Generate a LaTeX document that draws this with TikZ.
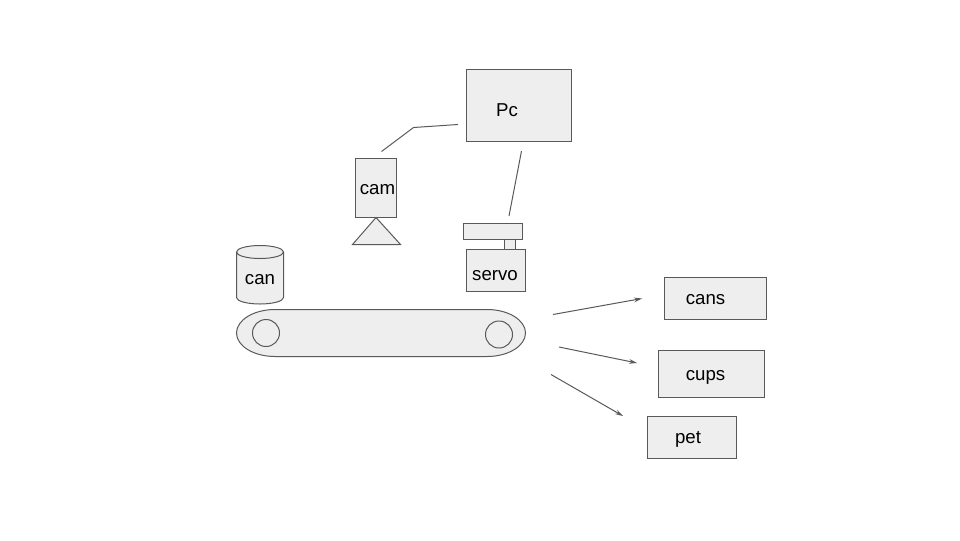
\documentclass[tikz,border=0pt]{standalone}
\usepackage{fontspec}
\setmainfont{Liberation Sans}
\usetikzlibrary{arrows.meta,shapes.geometric}
\definecolor{boxfill}{HTML}{EEEEEE}
\definecolor{boxline}{HTML}{595959}
\tikzset{
	part/.style={draw=boxline,fill=boxfill,line width=0.75pt,inner sep=0pt,outer sep=0pt},
	box/.style={part,rectangle},
	wheel/.style={part,circle,minimum size=27\px},
	tag/.style={inner sep=0pt,font=\fontsize{14}{16}\selectfont,text=black},
	wire/.style={draw=boxline,line width=0.75pt},
	flow/.style={wire,-{Stealth[length=6pt,width=3.5pt]}}
}
\newlength{\px}
\setlength{\px}{0.75pt}
\begin{document}
\begin{tikzpicture}[x=0.75pt,y=-0.75pt]
	\useasboundingbox (0,0) rectangle (960,540);
	% computer and camera
	\node[box,minimum width=105\px,minimum height=72\px] (pc) at (518.5,105.5) {};
	\node[tag] (pc_t) at (507,110) {Pc};
	\node[box,minimum width=41\px,minimum height=59\px] (cam) at (375.5,187.5) {};
	\node[tag] (cam_t) at (377.5,190) {cam};
	\filldraw[part] (376,217.5) coordinate (cam_top) -- (352.5,244.5) -- (400.5,244.5) -- cycle;
	% servo
	\node[box,minimum width=59\px,minimum height=16\px] (arm) at (492.5,231.5) {};
	\node[box,minimum width=11\px,minimum height=10\px] (shaft) at (509.5,244) {};
	\node[box,minimum width=59\px,minimum height=42\px] (servo) at (495.5,270.5) {};
	\node[tag] (servo_t) at (495,276) {servo};
	% can and belt
	\filldraw[part] (236.5,252) -- (236.5,297.5) arc[start angle=180,end angle=0,x radius=23.5,y radius=6.5]
		-- (283.5,252) arc[start angle=0,end angle=-360,x radius=23.5,y radius=6.5];
	\node[tag] (can_t) at (260,280) {can};
	\filldraw[part] (275,309.5) -- (487,309.5) arc[start angle=-90,end angle=90,x radius=38.5,y radius=23.5]
		-- (275,356.5) arc[start angle=90,end angle=270,x radius=38.5,y radius=23.5] -- cycle;
	\node[wheel] (wheel_l) at (266,333) {};
	\node[wheel] (wheel_r) at (499,334.5) {};
	% sorted bins
	\node[box,minimum width=102\px,minimum height=42\px] (cans) at (715,298.5) {};
	\node[tag] (cans_t) at (705.5,300) {cans};
	\node[box,minimum width=106\px,minimum height=47\px] (cups) at (711,374) {};
	\node[tag] (cups_t) at (705.5,377) {cups};
	\node[box,minimum width=89\px,minimum height=42\px] (pet) at (691.5,437.5) {};
	\node[tag] (pet_t) at (688,439) {pet};
	% free ends
	\coordinate (w1) at (381.5,151.5);
	\coordinate (w2) at (413.5,127.5);
	\coordinate (w3) at (458,124.5);
	\coordinate (w4) at (521.5,151);
	\coordinate (w5) at (509,216);
	\coordinate (f1a) at (553,314.5);
	\coordinate (f1b) at (642,298.5);
	\coordinate (f2a) at (559,347);
	\coordinate (f2b) at (637,363);
	\coordinate (f3a) at (551,374.5);
	\coordinate (f3b) at (623,416);
	\draw[wire] (w1) -- (w2) -- (w3);
	\draw[wire] (w4) -- (w5);
	\draw[flow] (f1a) -- (f1b);
	\draw[flow] (f2a) -- (f2b);
	\draw[flow] (f3a) -- (f3b);
\end{tikzpicture}
\end{document}
